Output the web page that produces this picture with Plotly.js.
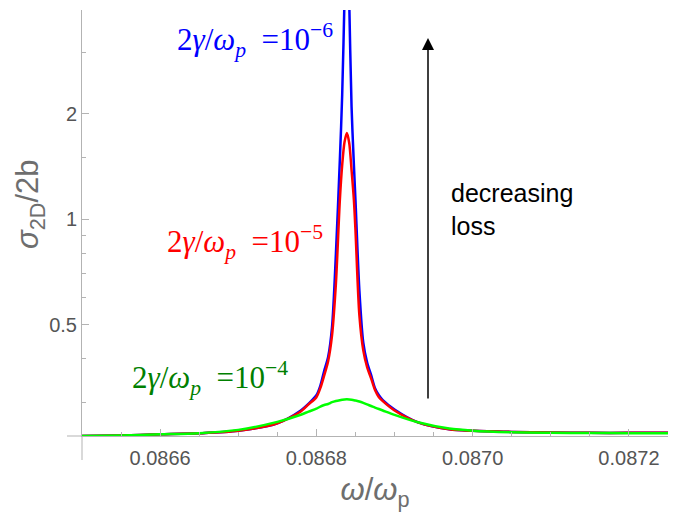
<!DOCTYPE html>
<html>
<head>
<meta charset="utf-8">
<script src="https://cdn.plot.ly/plotly-3.0.1.min.js"></script>
<style>html,body{margin:0;padding:0;background:#fff;}#chart{width:673px;height:518px;}</style>
</head>
<body>
<div id="chart"></div>
<script>
// frequency samples, omega / omega_p
const omega = [0.08650, 0.08655, 0.08660, 0.08665, 0.08670, 0.08675, 0.08678, 0.08679, 0.08680, 0.086805,
  0.08681, 0.086815, 0.08682, 0.086825, 0.08683, 0.086833, 0.086836, 0.086839, 0.086842, 0.086845,
  0.086848, 0.08685, 0.086855, 0.08686, 0.086865, 0.08687, 0.086875, 0.08688, 0.086885, 0.0869,
  0.08693, 0.08697, 0.0870, 0.08705, 0.0871, 0.08715, 0.0872, 0.08725];

// sigma_2D / 2b
const sigmaLoss6 = [0.2411, 0.2419, 0.2436, 0.2452, 0.2493, 0.262, 0.285, 0.298, 0.315, 0.335,
  0.37, 0.405, 0.493, 0.80, 1.477, 2.265, 4.3, 9.0, 4.2, 2.096,
  1.429, 1.135, 0.628, 0.445, 0.39, 0.36, 0.33, 0.315, 0.305, 0.287,
  0.2636, 0.2518, 0.2493, 0.2476, 0.2468, 0.2460, 0.2460, 0.2460];
const sigmaLoss5 = [0.2411, 0.2419, 0.2436, 0.2452, 0.2493, 0.262, 0.283, 0.2967, 0.311, 0.330,
  0.359, 0.394, 0.467, 0.658, 1.135, 1.429, 1.663, 1.765, 1.652, 1.383,
  1.135, 0.932, 0.533, 0.423, 0.378, 0.352, 0.326, 0.311, 0.303, 0.285,
  0.2636, 0.2518, 0.2493, 0.2476, 0.2468, 0.2460, 0.2460, 0.2460];
const sigmaLoss4 = [0.2411, 0.2419, 0.2436, 0.2455, 0.2509, 0.2644, 0.2772, 0.2830, 0.2883, 0.2925,
  0.2955, 0.2975, 0.3010, 0.3033, 0.3050, 0.3058, 0.3064, 0.3066, 0.3064, 0.3058,
  0.3050, 0.3042, 0.3022, 0.2995, 0.2965, 0.2935, 0.2905, 0.2877, 0.2850, 0.2770,
  0.2638, 0.2530, 0.2495, 0.2470, 0.2462, 0.2458, 0.2455, 0.2453];

const xTickVals = [0.0866, 0.0868, 0.0870, 0.0872];
const xTickText = ["0.0866", "0.0868", "0.0870", "0.0872"];
const yTickVals = [0.5, 1, 2];
const yTickText = ["0.5", "1", "2"];
const yMinorVals = [0.3, 0.4, 0.6, 0.7, 0.8, 0.9, 1.5, 3];

const labels = [
  {text: '2<i>γ</i>/<i>ω</i><sub><i>p</i></sub>  =10<sup>−6</sup>', color: '#0000ff'},
  {text: '2<i>γ</i>/<i>ω</i><sub><i>p</i></sub>  =10<sup>−5</sup>', color: '#ff0000'},
  {text: '2<i>γ</i>/<i>ω</i><sub><i>p</i></sub>  =10<sup>−4</sup>', color: '#008000'}
];

const W = 673, H = 518;
const L = 82, R = 5, T = 10, B = 82;
const pw = W - L - R, ph = H - T - B;
const px = x => (x - L) / pw;
const py = y => (H - B - y) / ph;

const mk = (y, c) => ({x: omega, y: y, type: 'scatter', mode: 'lines',
  line: {color: c, width: 2.5, shape: 'spline', smoothing: 0.8}, hoverinfo: 'skip', showlegend: false});

const data = [mk(sigmaLoss6, '#0000ff'), mk(sigmaLoss5, '#ff0000'), mk(sigmaLoss4, '#00ff00')];

const serif = 'Liberation Serif, Times New Roman, serif';
const sans = 'Liberation Sans, Arial, sans-serif';

const layout = {
  width: W, height: H,
  margin: {l: L, r: R, t: T, b: B},
  paper_bgcolor: '#fff', plot_bgcolor: '#fff',
  showlegend: false,
  xaxis: {
    range: [0.0865, 0.08725], showgrid: false, zeroline: false,
    showline: true, linecolor: '#b3b3b3', linewidth: 1,
    ticks: 'inside', ticklen: 7, tickcolor: '#b3b3b3', tickwidth: 1,
    tickmode: 'array', tickvals: xTickVals, ticktext: xTickText,
    ticklabelstandoff: 4,
    minor: {dtick: 0.00005, tick0: 0.0865, ticks: 'inside', ticklen: 4, tickcolor: '#b3b3b3', showgrid: false},
    tickfont: {family: sans, size: 20, color: '#555555'},
    title: {text: '<i>ω</i>/<i>ω</i><sub>p</sub>', font: {family: sans, size: 31, color: '#6e6e6e'}, standoff: 10}
  },
  yaxis: {
    type: 'log', range: [Math.log10(0.241), Math.log10(3.96)],
    showgrid: false, zeroline: false,
    showline: true, linecolor: '#b3b3b3', linewidth: 1,
    ticks: 'inside', ticklen: 7, tickcolor: '#b3b3b3', tickwidth: 1,
    tickmode: 'array', tickvals: yTickVals, ticktext: yTickText,
    minor: {tickmode: 'array', tickvals: yMinorVals, ticks: 'inside', ticklen: 4, tickcolor: '#b3b3b3', showgrid: false},
    tickfont: {family: sans, size: 20, color: '#555555'}
  },
  shapes: [
    {type: 'line', xref: 'paper', yref: 'paper', x0: 0, x1: 0, y0: 0, y1: py(460), line: {color: '#b3b3b3', width: 1}},
    {type: 'line', xref: 'paper', yref: 'paper', x0: px(67), x1: 0, y0: 0, y1: 0, line: {color: '#b3b3b3', width: 1}}
  ],
  annotations: [
    {xref: 'paper', yref: 'paper', x: px(335), y: py(40), xanchor: 'right', yanchor: 'middle', showarrow: false,
     text: labels[0].text, font: {family: serif, size: 31, color: labels[0].color}},
    {xref: 'paper', yref: 'paper', x: px(325), y: py(242), xanchor: 'right', yanchor: 'middle', showarrow: false,
     text: labels[1].text, font: {family: serif, size: 31, color: labels[1].color}},
    {xref: 'paper', yref: 'paper', x: px(290), y: py(378), xanchor: 'right', yanchor: 'middle', showarrow: false,
     text: labels[2].text, font: {family: serif, size: 31, color: labels[2].color}},
    {xref: 'paper', yref: 'paper', x: px(449), y: py(209), xanchor: 'left', yanchor: 'middle', align: 'left', showarrow: false,
     text: 'decreasing<br>loss', font: {family: sans, size: 25, color: '#000'}},
    {xref: 'paper', yref: 'paper', x: px(428), y: py(38), text: '', showarrow: true,
     ax: 0, ay: 362, arrowhead: 2, arrowsize: 1.6, arrowwidth: 1.5, arrowcolor: '#000', standoff: 0},
    {xref: 'paper', yref: 'paper', x: px(30), y: py(204), textangle: -90, showarrow: false,
     xanchor: 'center', yanchor: 'middle',
     text: '<i>σ</i><sub>2D</sub>/2b', font: {family: sans, size: 31, color: '#6e6e6e'}}
  ]
};

Plotly.newPlot('chart', data, layout, {staticPlot: true, displayModeBar: false});
</script>
</body>
</html>
